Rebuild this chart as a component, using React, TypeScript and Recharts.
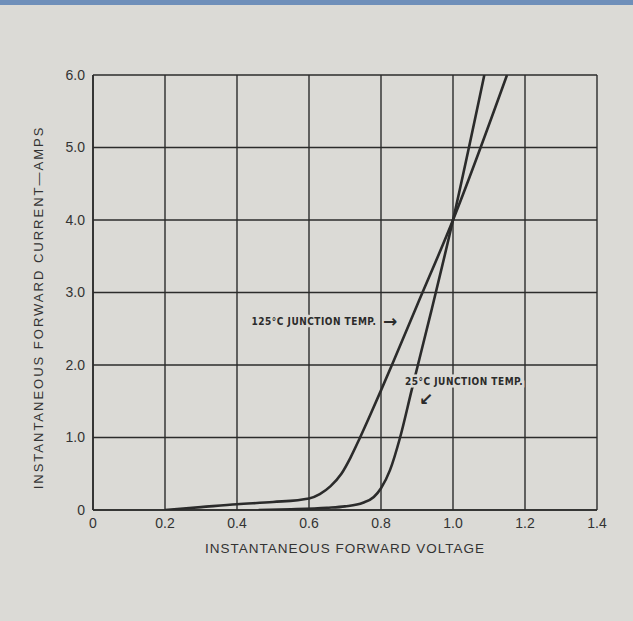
import React from 'react';
import { LineChart, Line, XAxis, YAxis, CartesianGrid, ReferenceDot, Label } from 'recharts';

// forward voltage (V) vs forward current (A)
const hotCurve = [
  { v: 0.2, i: 0.0 },
  { v: 0.3, i: 0.04 },
  { v: 0.4, i: 0.08 },
  { v: 0.5, i: 0.11 },
  { v: 0.6, i: 0.16 },
  { v: 0.63, i: 0.22 },
  { v: 0.66, i: 0.33 },
  { v: 0.69, i: 0.5 },
  { v: 0.715, i: 0.72 },
  { v: 0.74, i: 0.98 },
  { v: 0.77, i: 1.31 },
  { v: 0.8, i: 1.65 },
  { v: 0.833, i: 2.03 },
  { v: 0.9, i: 2.82 },
  { v: 1.0, i: 4.0 },
  { v: 1.15, i: 6.0 },
];

const roomCurve = [
  { v: 0.46, i: 0.0 },
  { v: 0.55, i: 0.01 },
  { v: 0.65, i: 0.03 },
  { v: 0.7, i: 0.05 },
  { v: 0.75, i: 0.1 },
  { v: 0.78, i: 0.18 },
  { v: 0.8, i: 0.3 },
  { v: 0.825, i: 0.55 },
  { v: 0.853, i: 1.0 },
  { v: 0.885, i: 1.65 },
  { v: 0.94, i: 2.75 },
  { v: 1.0, i: 4.0 },
  { v: 1.087, i: 6.0 },
];

const xTicks = [0, 0.2, 0.4, 0.6, 0.8, 1.0, 1.2, 1.4];
const yTicks = [0, 1, 2, 3, 4, 5, 6];

const ink = '#2b2b2b';
const paper = '#dbdad6';
const tickFont = '"Liberation Sans", Arial, sans-serif';
const noteFont = '"DejaVu Sans Condensed", "Liberation Sans Narrow", sans-serif';

const fmtTick = (v: number) => (v === 0 ? '0' : v.toFixed(1));

// the printed labels break the curve they sit on, so knock out the line behind the text
const noteStyle = {
  fill: ink,
  fontSize: 10,
  fontFamily: noteFont,
  fontWeight: 600,
  letterSpacing: 0.5,
  stroke: paper,
  strokeWidth: 5,
  paintOrder: 'stroke',
} as React.CSSProperties;

const arrowStyle = {
  fill: ink,
  fontSize: 17,
  fontFamily: '"DejaVu Sans", sans-serif',
  fontWeight: 700,
} as React.CSSProperties;

// rotated y-axis title, drawn a little left of the tick labels
const YTitle = (props: any) => {
  const vb = props.viewBox || {};
  const cx = vb.x - 5;
  const cy = vb.y + vb.height / 2 + 15;
  return (
    <text
      x={cx}
      y={cy}
      transform={`rotate(-90 ${cx} ${cy})`}
      textAnchor="middle"
      dominantBaseline="central"
      fill="#333"
      fontSize={13}
      fontFamily={tickFont}
      letterSpacing={2}
    >
      INSTANTANEOUS FORWARD CURRENT—AMPS
    </text>
  );
};

const App: React.FC = () => {
  return (
    <div style={{ position: 'absolute', left: 0, top: 0, width: 633, height: 621, background: paper }}>
      <div style={{ position: 'absolute', left: 0, top: 0, width: 633, height: 5, background: '#6f8fba' }} />
      <LineChart
        width={633}
        height={621}
        margin={{ top: 75, right: 36, bottom: 81, left: 43 }}
      >
        <CartesianGrid stroke={ink} strokeWidth={1.4} />
        <XAxis
          type="number"
          dataKey="v"
          domain={[0, 1.4]}
          ticks={xTicks}
          tickFormatter={fmtTick}
          axisLine={{ stroke: ink, strokeWidth: 1.6 }}
          tickLine={false}
          tick={{ fill: '#333', fontSize: 14, fontFamily: tickFont }}
          tickMargin={2}
          height={30}
          allowDataOverflow
        >
          <Label
            value="INSTANTANEOUS FORWARD VOLTAGE"
            position="insideBottom"
            offset={-13}
            style={{ fill: '#333', fontSize: 13.5, fontFamily: tickFont, letterSpacing: 1 }}
          />
        </XAxis>
        <YAxis
          type="number"
          domain={[0, 6]}
          ticks={yTicks}
          tickFormatter={fmtTick}
          axisLine={{ stroke: ink, strokeWidth: 1.6 }}
          tickLine={false}
          tick={{ fill: '#333', fontSize: 14, fontFamily: tickFont }}
          tickMargin={2}
          width={50}
          allowDataOverflow
        >
          <Label content={YTitle} />
        </YAxis>
        <Line
          data={hotCurve}
          dataKey="i"
          type="monotone"
          stroke={ink}
          strokeWidth={2.6}
          dot={false}
          isAnimationActive={false}
        />
        <Line
          data={roomCurve}
          dataKey="i"
          type="monotone"
          stroke={ink}
          strokeWidth={2.6}
          dot={false}
          isAnimationActive={false}
        />
        <ReferenceDot x={0.614} y={2.6} r={0} ifOverflow="visible">
          <Label value="125°C JUNCTION TEMP." position="center" style={noteStyle} />
        </ReferenceDot>
        <ReferenceDot x={0.825} y={2.61} r={0} ifOverflow="visible">
          <Label value="→" position="center" style={arrowStyle} />
        </ReferenceDot>
        <ReferenceDot x={1.031} y={1.78} r={0} ifOverflow="visible">
          <Label value="25°C JUNCTION TEMP." position="center" style={noteStyle} />
        </ReferenceDot>
        <ReferenceDot x={0.925} y={1.53} r={0} ifOverflow="visible">
          <Label value="↙" position="center" style={{ ...arrowStyle, fontSize: 17 }} />
        </ReferenceDot>
      </LineChart>
    </div>
  );
};

export default App;
